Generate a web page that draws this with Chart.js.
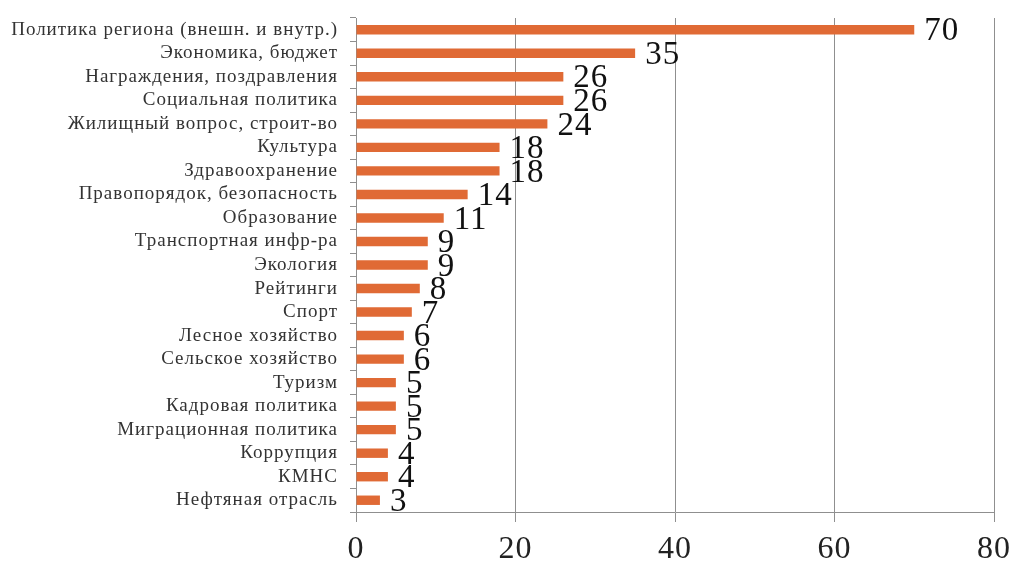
<!DOCTYPE html>
<html>
<head>
<meta charset="utf-8">
<script src="https://cdn.jsdelivr.net/npm/chart.js@4"></script>
<style>
html,body{margin:0;padding:0;background:#fff;}
#wrap{width:1014px;height:563px;}
</style>
</head>
<body>
<div id="wrap"><canvas id="c" width="1014" height="563"></canvas></div>
<script>
const categories = [
  "Политика региона (внешн. и внутр.)",
  "Экономика, бюджет",
  "Награждения, поздравления",
  "Социальная политика",
  "Жилищный вопрос, строит-во",
  "Культура",
  "Здравоохранение",
  "Правопорядок, безопасность",
  "Образование",
  "Транспортная инфр-ра",
  "Экология",
  "Рейтинги",
  "Спорт",
  "Лесное хозяйство",
  "Сельское хозяйство",
  "Туризм",
  "Кадровая политика",
  "Миграционная политика",
  "Коррупция",
  "КМНС",
  "Нефтяная отрасль"
];
const values = [70, 35, 26, 26, 24, 18, 18, 14, 11, 9, 9, 8, 7, 6, 6, 5, 5, 5, 4, 4, 3];
const xTicks = [0, 20, 40, 60, 80];

const serif = "'Liberation Serif', 'DejaVu Serif', serif";

const spacing = {
  id: 'spacing',
  beforeDraw(chart) { chart.ctx.letterSpacing = '1px'; },
  afterDraw(chart) { chart.ctx.letterSpacing = '0px'; }
};

const valueLabels = {
  id: 'valueLabels',
  afterDatasetsDraw(chart) {
    const ctx = chart.ctx;
    const meta = chart.getDatasetMeta(0);
    ctx.save();
    ctx.font = "33px " + serif;
    ctx.letterSpacing = '1px';
    ctx.fillStyle = "#111";
    ctx.textAlign = "left";
    ctx.textBaseline = "middle";
    meta.data.forEach((el, i) => {
      ctx.fillText(String(values[i]), el.x + 10, el.y + 2);
    });
    ctx.restore();
  }
};

new Chart(document.getElementById('c'), {
  type: 'bar',
  data: {
    labels: categories,
    datasets: [{
      data: values,
      backgroundColor: '#E06A35',
      borderWidth: 0,
      barPercentage: 0.4,
      categoryPercentage: 1.0
    }]
  },
  options: {
    indexAxis: 'y',
    responsive: false,
    animation: false,
    layout: { padding: { top: 18, right: 20, left: 0, bottom: 0 } },
    plugins: { legend: { display: false }, tooltip: { enabled: false } },
    scales: {
      x: {
        min: 0, max: 80,
        afterBuildTicks(scale) { scale.ticks = xTicks.map(v => ({ value: v })); },
        afterFit(scale) { scale.height = 51; scale.paddingLeft = 0; scale.paddingRight = 0; },
        grid: { color: '#8f8f8f', lineWidth: 1, tickLength: 10, drawOnChartArea: true },
        border: { display: true, color: '#8f8f8f' },
        ticks: { font: { family: serif, size: 32 }, color: '#222', padding: 8 }
      },
      y: {
        afterFit(scale) { scale.width = 356; scale.paddingTop = 0; scale.paddingBottom = 0; },
        grid: { color: '#8f8f8f', drawOnChartArea: false, tickLength: 6, offset: true },
        border: { display: true, color: '#8f8f8f' },
        ticks: { font: { family: serif, size: 19 }, color: '#333', padding: 12, autoSkip: false }
      }
    }
  },
  plugins: [spacing, valueLabels]
});
</script>
</body>
</html>
